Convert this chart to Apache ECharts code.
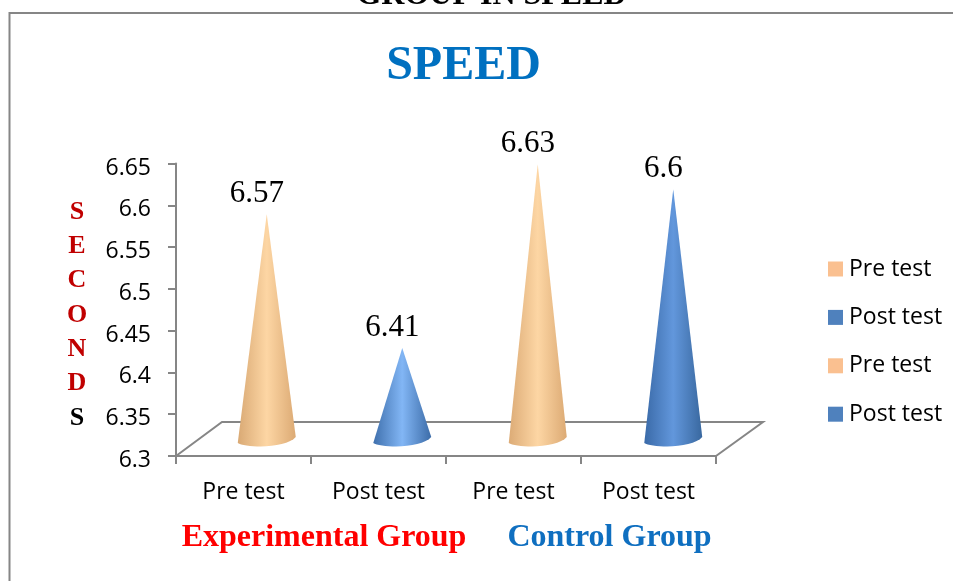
<!DOCTYPE html>
<html><head><meta charset="utf-8">
<style>html,body{margin:0;padding:0;background:#fff}#c{width:953px;height:581px}</style>
<script src="https://cdn.jsdelivr.net/npm/echarts@6/dist/echarts.min.js"></script>
</head><body><div id="c"></div>
<script>
const categories = ['Pre test','Post test','Pre test','Post test'];
const values = [6.57,6.41,6.63,6.6];
const legendNames = ['Pre test','Post test','Pre test ','Post test '];
const axisLetters = ['S','E','C','O','N','D','S'];
const letterColors = ['#c00000','#c00000','#c00000','#c00000','#c00000','#c00000','#000000'];
const yMin = 6.3, yMax = 6.65, yStep = 0.05;
const gradients = [
  ['#d9a974','#fdd6a4','#dcaa74'],
  ['#3f70ad','#82b6f5','#3c6ca8'],
  ['#dcab76','#fdd6a4','#dcaa74'],
  ['#3a6aa8','#6297dc','#39689f']
];
const legendColors = ['#fac090','#4f81bd','#fac090','#4f81bd'];
const ser = 'Liberation Serif', sans = 'Open Sans';
const grey = '#868686';

const chart = echarts.init(document.getElementById('c'));
function cone(i){
  return function(params, api){
    const v = api.value(1);
    const tip = api.coord([api.value(0), v]);
    const base = api.coord([api.value(0), yMin]);
    const cx = base[0], by = base[1], r = 29;
    const d = `M${cx} ${tip[1]} L${cx+r} ${by-3} C${cx+24} ${by+3} ${cx+8} ${by+6.5} ${cx-6} ${by+6.5} C${cx-16} ${by+6.5} ${cx-26} ${by+5} ${cx-r} ${by+3} Z`;
    return {type:'group',children:[
      {type:'path',shape:{pathData:d},style:{fill:{type:'linear',x:0,y:0,x2:1,y2:0,colorStops:[
        {offset:0,color:gradients[i][0]},{offset:0.5,color:gradients[i][1]},{offset:1,color:gradients[i][2]}]}}},
      {type:'text',style:{text:String(v),x:cx-10,y:tip[1]-5,align:'center',verticalAlign:'bottom',font:`31px "${ser}"`,fill:'#000'}}
    ]};
  };
}
const floor = function(params, api){
  const a = api.coord([0, yMin]), top = a[1];
  const size = api.size([1,0])[0];
  const L = a[0]-size/2, R = L+size*4;
  return {type:'polyline',shape:{points:[[L,top],[L+46,top-34],[R+47,top-34],[R,top]]},style:{fill:'none',stroke:grey,lineWidth:2}};
};
const series = values.map((v,i)=>({
  name:legendNames[i],type:'custom',xAxisIndex:1,yAxisIndex:1,z:5,
  itemStyle:{color:legendColors[i]},renderItem:cone(i),clip:false,
  encode:{x:0,y:1},data:[[i,v]]
}));
series.unshift({type:'custom',xAxisIndex:0,yAxisIndex:0,z:1,renderItem:floor,silent:true,clip:false,data:[[0,yMin]],encode:{x:0,y:1}});

const graphic = [
  {type:'rect',shape:{x:9.5,y:13,width:1000,height:700},style:{fill:'none',stroke:grey,lineWidth:2}},
  {type:'text',x:491.5,y:-4,style:{text:'GROUP IN SPEED',align:'center',verticalAlign:'middle',font:`bold 32px "${ser}"`,fill:'#000'}}
];
axisLetters.forEach((l,i)=>graphic.push({type:'text',x:77,y:212+i*34.3,style:{text:l,align:'center',verticalAlign:'middle',font:`bold 26px "${ser}"`,fill:letterColors[i]}}));

chart.setOption({
  animation:false,backgroundColor:'#fff',
  title:[
    {text:'SPEED',left:458.5,top:62,textAlign:'center',textVerticalAlign:'middle',textStyle:{fontFamily:ser,fontSize:48,fontWeight:'bold',color:'#0070c0'}},
    {text:'Experimental Group',left:319,top:533,textAlign:'center',textVerticalAlign:'middle',textStyle:{fontFamily:ser,fontSize:32,fontWeight:'bold',color:'#ff0000'}},
    {text:'Control Group',left:604.5,top:533,textAlign:'center',textVerticalAlign:'middle',textStyle:{fontFamily:ser,fontSize:32,fontWeight:'bold',color:'#0f6fc0'}}
  ],
  grid:[
    {left:176,top:163.5,width:540,height:292.5},
    {left:199,top:147.5,width:542,height:292.5}
  ],
  xAxis:[
    {type:'category',gridIndex:0,data:categories,axisLine:{lineStyle:{color:grey,width:2}},axisTick:{show:true,alignWithLabel:false,length:8,lineStyle:{color:grey,width:2}},axisLabel:{color:'#000',fontFamily:sans,fontSize:23,margin:25,interval:0}},
    {type:'category',gridIndex:1,data:categories,show:false}
  ],
  yAxis:[
    {type:'value',gridIndex:0,min:yMin,max:yMax,interval:yStep,splitLine:{show:false},axisLine:{show:true,lineStyle:{color:grey,width:2}},axisTick:{show:true,length:8,lineStyle:{color:grey,width:2}},axisLabel:{color:'#000',fontFamily:sans,fontSize:23,margin:25,verticalAlign:'top',lineHeight:9}},
    {type:'value',gridIndex:1,min:yMin,max:yMax,interval:yStep,show:false,splitLine:{show:false}}
  ],
  legend:{orient:'vertical',left:823,top:252.5,itemWidth:15,itemHeight:15,itemGap:25.4,icon:'rect',selectedMode:false,data:legendNames,
    formatter:n=>n.trim(),textStyle:{fontFamily:sans,fontSize:23,color:'#000',padding:[0,0,0,1]}},
  graphic,
  series
});
</script></body></html>
